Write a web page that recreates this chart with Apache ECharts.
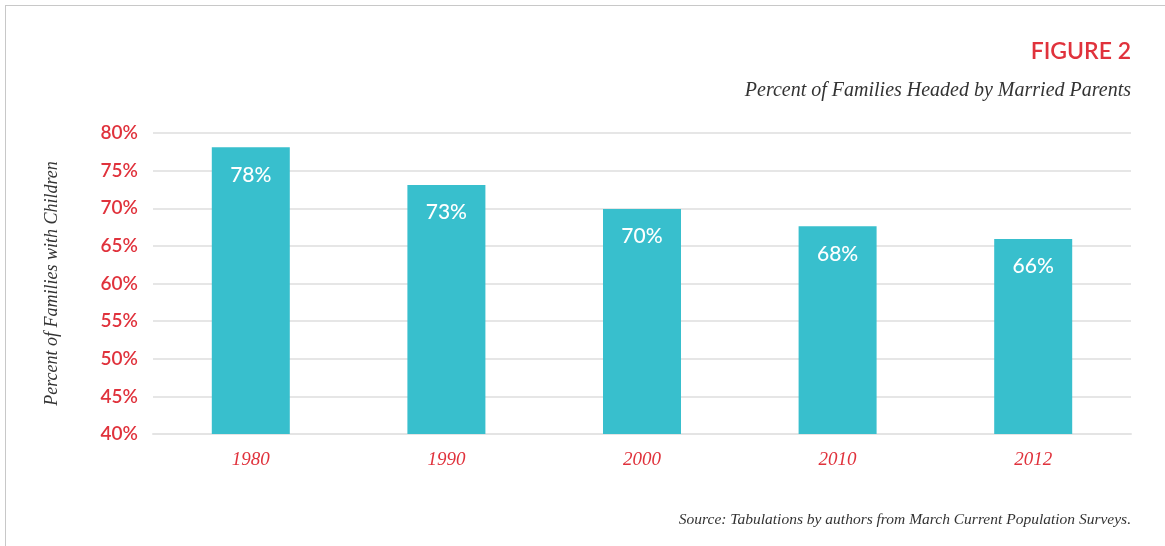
<!DOCTYPE html>
<html><head><meta charset="utf-8">
<script src="https://cdn.jsdelivr.net/npm/echarts@6/dist/echarts.min.js"></script>
<style>
html,body{margin:0;padding:0;background:#fff;}
#frame{position:absolute;left:5px;top:5px;width:1200px;height:600px;border-top:1px solid #c8c8c8;border-left:1px solid #c8c8c8;}
#chart{position:absolute;left:0;top:0;width:1165px;height:546px;}
</style></head>
<body>
<div id="frame"></div>
<div id="chart"></div>
<script>
const categories = ['1980', '1990', '2000', '2010', '2012'];
const values = [78.1, 73.1, 69.9, 67.6, 65.9];
const yTicks = [40, 45, 50, 55, 60, 65, 70, 75, 80];

const RED = '#e0323c';
const chart = echarts.init(document.getElementById('chart'), null, {renderer: 'canvas'});
chart.setOption({
  backgroundColor: 'transparent',
  animation: false,
  title: [
    {text: 'FIGURE 2', right: 29, top: 35, textStyle: {color: RED, fontFamily: 'Lato', fontWeight: 600, fontSize: 23}},
    {text: 'Percent of Families Headed by Married Parents', right: 29, top: 76, textStyle: {color: '#333', fontFamily: 'Liberation Serif', fontStyle: 'italic', fontWeight: 'normal', fontSize: 20}},
    {text: 'Source: Tabulations by authors from March Current Population Surveys.', right: 29, top: 507, textStyle: {color: '#333', fontFamily: 'Liberation Serif', fontStyle: 'italic', fontWeight: 'normal', fontSize: 15.5}}
  ],
  grid: {left: 153, right: 34, top: 133, bottom: 112, containLabel: false},
  xAxis: {
    type: 'category', data: categories,
    axisLine: {show: true, lineStyle: {color: '#e4e4e4', width: 2}},
    axisTick: {show: false},
    axisLabel: {color: RED, fontFamily: 'Liberation Serif', fontStyle: 'italic', fontSize: 19, margin: 16}
  },
  yAxis: {
    type: 'value', min: 40, max: 80, interval: 5,
    name: 'Percent of Families with Children', nameLocation: 'middle', nameGap: 92, nameRotate: 90,
    nameTextStyle: {color: '#333', fontFamily: 'Liberation Serif', fontStyle: 'italic', fontSize: 18},
    axisLine: {show: false}, axisTick: {show: false},
    splitLine: {lineStyle: {color: '#e6e6e6', width: 2}},
    axisLabel: {color: RED, fontFamily: 'Lato', fontWeight: 600, fontSize: 19, margin: 15,
      formatter: v => yTicks.includes(v) ? v + '%' : ''}
  },
  series: [{
    type: 'bar', data: values, barWidth: 78,
    itemStyle: {color: '#38bfcd'},
    label: {show: true, position: 'insideTop', distance: 17, color: '#fff', fontFamily: 'Lato', fontWeight: 500, fontSize: 21,
      formatter: p => Math.round(p.value) + '%'}
  }]
});
</script>
</body></html>
